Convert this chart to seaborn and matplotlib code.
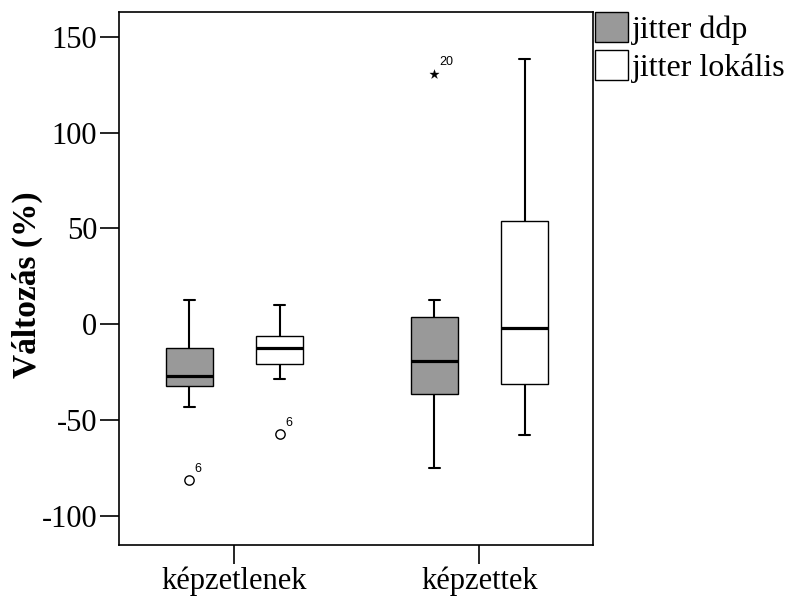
import numpy as np
import pandas as pd
import matplotlib
matplotlib.use("Agg")
import matplotlib.pyplot as plt
import seaborn as sns

# ---- data ----
groups = ["képzetlenek", "képzettek"]
series = ["jitter ddp", "jitter lokális"]

ddp_low = [-43.1, -75.0]
ddp_q1 = [-32.0, -36.4]
ddp_med = [-27.0, -19.0]
ddp_q3 = [-12.5, 4.0]
ddp_high = [12.7, 12.7]

lok_low = [-28.4, -57.7]
lok_q1 = [-20.9, -31.3]
lok_med = [-12.4, -2.1]
lok_q3 = [-6.1, 53.9]
lok_high = [9.9, 138.2]

out_group = ["képzetlenek", "képzetlenek", "képzettek"]
out_series = ["jitter ddp", "jitter lokális", "jitter ddp"]
out_value = [-81.2, -57.2, 130.4]
out_case = ["6", "6", "20"]
out_kind = ["outlier", "outlier", "extreme"]

yticks = [-100, -50, 0, 50, 100, 150]
ytick_labels = ["-100", "-50", "0", "50", "100", "150"]

# ---- long table: five summary points per box ----
rows = []
for s, stats in zip(series, [(ddp_low, ddp_q1, ddp_med, ddp_q3, ddp_high),
                             (lok_low, lok_q1, lok_med, lok_q3, lok_high)]):
    for gi, g in enumerate(groups):
        for arr in stats:
            rows.append({"group": g, "series": s, "value": arr[gi]})
df = pd.DataFrame(rows)

sns.set_theme(style="white")
plt.rcParams["font.family"] = ["Liberation Serif", "DejaVu Serif"]
plt.rcParams["text.color"] = "black"
plt.rcParams["axes.labelcolor"] = "black"
plt.rcParams["xtick.color"] = "black"
plt.rcParams["ytick.color"] = "black"

fig = plt.figure(figsize=(7.86, 6.01), dpi=100)
ax = fig.add_axes([0.1514, 0.0932, 0.6031, 0.8869])

palette = {"jitter ddp": "#999999", "jitter lokális": "#ffffff"}
BOX_W = 0.738
sns.boxplot(data=df, x="group", y="value", hue="series", order=groups,
            hue_order=series, palette=palette, width=BOX_W, gap=0.48,
            whis=(0, 100), showfliers=False, linecolor="black", linewidth=1.0,
            saturation=1, medianprops=dict(linewidth=2.3, color="black"),
            whiskerprops=dict(linewidth=1.5, color="black"),
            capprops=dict(linewidth=1.5, color="black"),
            capwidths=0.045, ax=ax)

# ---- outliers ----
for g, s, v, c, k in zip(out_group, out_series, out_value, out_case, out_kind):
    x = groups.index(g) + (series.index(s) - 0.5) * BOX_W / 2
    if k == "outlier":
        sns.scatterplot(x=[x], y=[v], marker="o", s=45, color="white",
                        edgecolor="black", linewidth=1.0, ax=ax, zorder=5)
        off = (4, 8)
    else:
        sns.scatterplot(x=[x], y=[v], marker="*", s=50, color="black",
                        edgecolor="black", linewidth=0.2, ax=ax, zorder=5)
        off = (3.5, 8.5)
    ax.annotate(c, xy=(x, v), xytext=off, textcoords="offset points",
                ha="left", va="center", fontsize=9, color="black",
                family=["Liberation Sans", "DejaVu Sans"])

ax.set_xlim(-0.4706, 1.464)
ax.set_ylim(-115.1, 162.9)
ax.set_yticks(yticks)
ax.set_yticklabels(ytick_labels)
ax.set_xlabel("")
ax.set_ylabel("Változás (%)", fontsize=24, fontweight="bold")
ax.yaxis.set_label_coords(-0.160, 0.488)
ax.tick_params(axis="both", which="major", bottom=True, left=True,
               length=13.7, width=1.2, color="black", labelsize=22, pad=2,
               direction="out", labelcolor="black")
for sp in ax.spines.values():
    sp.set_visible(True)
    sp.set_color("black")
    sp.set_linewidth(1.2)

sns.move_legend(ax, "upper left", bbox_to_anchor=(1.004, 1.0), frameon=False,
                title=None, fontsize=23, handlelength=1.04, handleheight=1.07,
                handletextpad=0.13, borderaxespad=0.0, borderpad=0.0,
                labelspacing=0.16, labelcolor="black")

fig.savefig("out.png", dpi=100)
